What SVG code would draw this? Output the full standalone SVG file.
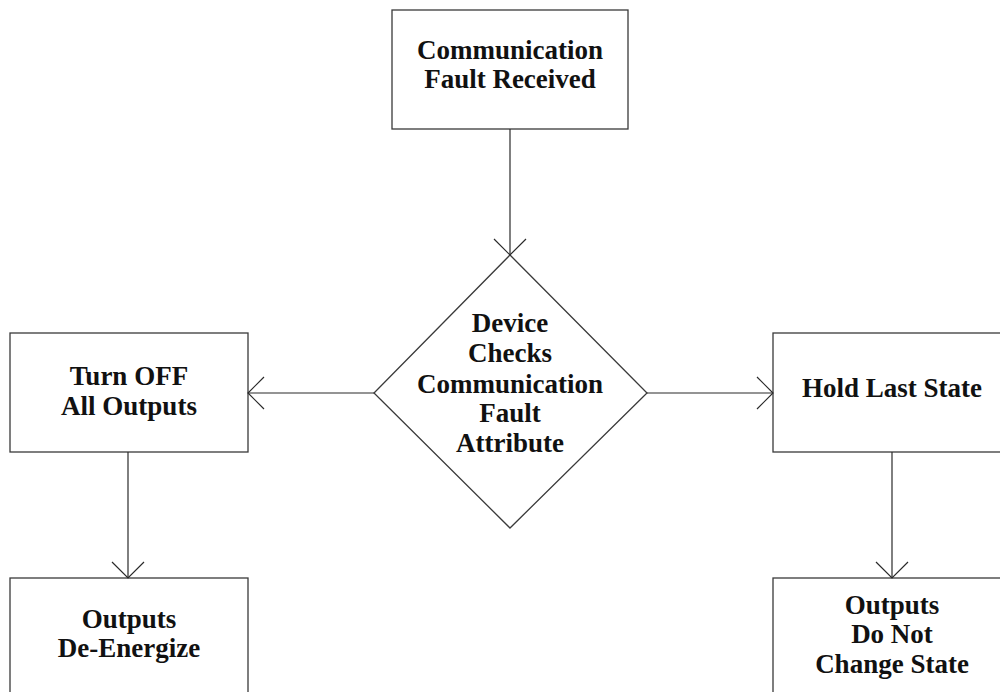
<svg xmlns="http://www.w3.org/2000/svg" width="1000" height="692" viewBox="0 0 1000 692">
<style>
.box{fill:#fff;stroke:#3a3a3a;stroke-width:1.3}
.t{font-family:"Liberation Serif","Times New Roman",serif;font-weight:bold;font-size:27px;fill:#111;text-anchor:middle}
.c{fill:none;stroke:#2a2a2a;stroke-width:1.2}
</style>
<defs>
<marker id="v" markerUnits="userSpaceOnUse" markerWidth="40" markerHeight="40" viewBox="-20 -20 40 40" refX="0" refY="0" orient="auto">
<path d="M-16,-16 L0,0 L-16,16" fill="none" stroke="#2a2a2a" stroke-width="1.2"/>
</marker>
</defs>
<rect width="1000" height="692" fill="#fff"/>
<g id="n1">
<rect class="box" x="392" y="10" width="236" height="119"/>
<text class="t" x="510" y="59">Communication</text>
<text class="t" x="510" y="88">Fault Received</text>
</g>
<g id="n2">
<polygon class="box" points="510,255 647,393 510,528 374,393"/>
<text class="t" x="510" y="332">Device</text>
<text class="t" x="510" y="362">Checks</text>
<text class="t" x="510" y="393">Communication</text>
<text class="t" x="510" y="422">Fault</text>
<text class="t" x="510" y="452">Attribute</text>
</g>
<g id="n3">
<rect class="box" x="10" y="333" width="238" height="119"/>
<text class="t" x="129" y="385">Turn OFF</text>
<text class="t" x="129" y="415">All Outputs</text>
</g>
<g id="n4">
<rect class="box" x="773" y="333" width="238" height="119"/>
<text class="t" x="892" y="397">Hold Last State</text>
</g>
<g id="n5">
<rect class="box" x="10" y="578" width="238" height="130"/>
<text class="t" x="129" y="628">Outputs</text>
<text class="t" x="129" y="657">De-Energize</text>
</g>
<g id="n6">
<rect class="box" x="773" y="578" width="238" height="130"/>
<text class="t" x="892" y="614">Outputs</text>
<text class="t" x="892" y="643">Do Not</text>
<text class="t" x="892" y="673">Change State</text>
</g>
<g id="connectors">
<line class="c" x1="510" y1="129" x2="510" y2="255" marker-end="url(#v)"/>
<line class="c" x1="374" y1="393" x2="248" y2="393" marker-end="url(#v)"/>
<line class="c" x1="647" y1="393" x2="773" y2="393" marker-end="url(#v)"/>
<line class="c" x1="128" y1="452" x2="128" y2="578" marker-end="url(#v)"/>
<line class="c" x1="892" y1="452" x2="892" y2="578" marker-end="url(#v)"/>
</g>
</svg>
